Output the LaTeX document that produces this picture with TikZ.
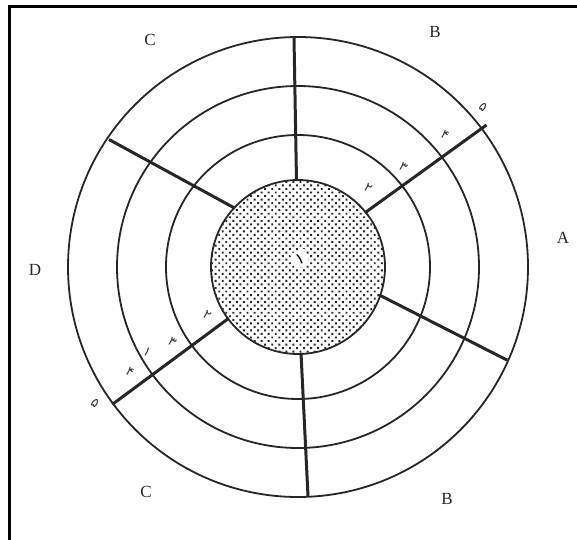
\documentclass[tikz,border=0pt]{standalone}
\usepackage{fontspec}
\setmainfont{Liberation Serif}
\newfontfamily\arabicfont[Script=Arabic]{DejaVu Sans}
\usetikzlibrary{patterns.meta}
\tikzdeclarepattern{
  name=halftone,
  type=uncolored,
  bounding box={(-2.5pt,-2.5pt) and (2.5pt,2.5pt)},
  tile size={(5pt,5pt)},
  tile transformation={rotate=45},
  code={\fill (0pt,0pt) circle (1.35pt);}
}
\tikzset{
  ring/.style={draw=black!85, line width=1.8pt},
  spoke/.style={draw=black!85, line width=3pt},
  core/.style={ring, pattern=halftone, pattern color=black!85},
  zone/.style={font=\fontsize{17}{19}\selectfont, text=black!85},
  num/.style={font=\arabicfont\fontsize{13}{14}\selectfont, text=black!80, rotate=-35, inner sep=0pt},
  frameline/.style={line width=3.5pt, black}
}
\begin{document}
\begin{tikzpicture}[x=1pt, y=1pt]
  \useasboundingbox (-298,-272) rectangle (279,267);
  \coordinate (o) at (0,0);

  % frame
  \draw[frameline] (-288.5,-280) -- (-288.5,260.5) -- (285,260.5);

  % rings
  \draw[ring] (o) circle (230);
  \draw[ring] (o) circle (181);
  \draw[ring] (o) circle (132);

  % spokes (inner angle / outer angle / outer radius)
  \foreach \a/\b/\r in {91/91/230, 39/37/236, -19/-24/229, -88/-87.5/230, 216.5/216.5/231, 137/146/228}
    \draw[spoke] (\a:86) -- (\b:\r);

  % core
  \draw[core] (o) circle (87);
  \node[fill=white, inner xsep=3.5pt, inner ysep=3pt, rotate=20, font=\arabicfont\fontsize{16}{16}\selectfont] (one) at (2,8) {۱};

  % zones
  \node[zone] (cTop) at (-148,227) {C};
  \node[zone] (bTop) at (137,235) {B};
  \node[zone] (a) at (265,29) {A};
  \node[zone] (d) at (-263,-3) {D};
  \node[zone] (cBot) at (-152,-225) {C};
  \node[zone] (bBot) at (149,-232) {B};

  % ring numbers, upper right
  \node[num] (ur2) at (70,79) {۲};
  \node[num] (ur3) at (105,100) {۳};
  \node[num] (ur4) at (147,132) {۴};
  \node[num] (ur5) at (185,160) {۵};

  % ring numbers, lower left
  \node[num] (ll2) at (-91,-48) {۲};
  \node[num] (ll3) at (-126,-75) {۳};
  \node[num] (ll1) at (-151,-85) {۱};
  \node[num] (ll4) at (-168,-105) {۴};
  \node[num] (ll5) at (-203,-136) {۵};
\end{tikzpicture}
\end{document}
